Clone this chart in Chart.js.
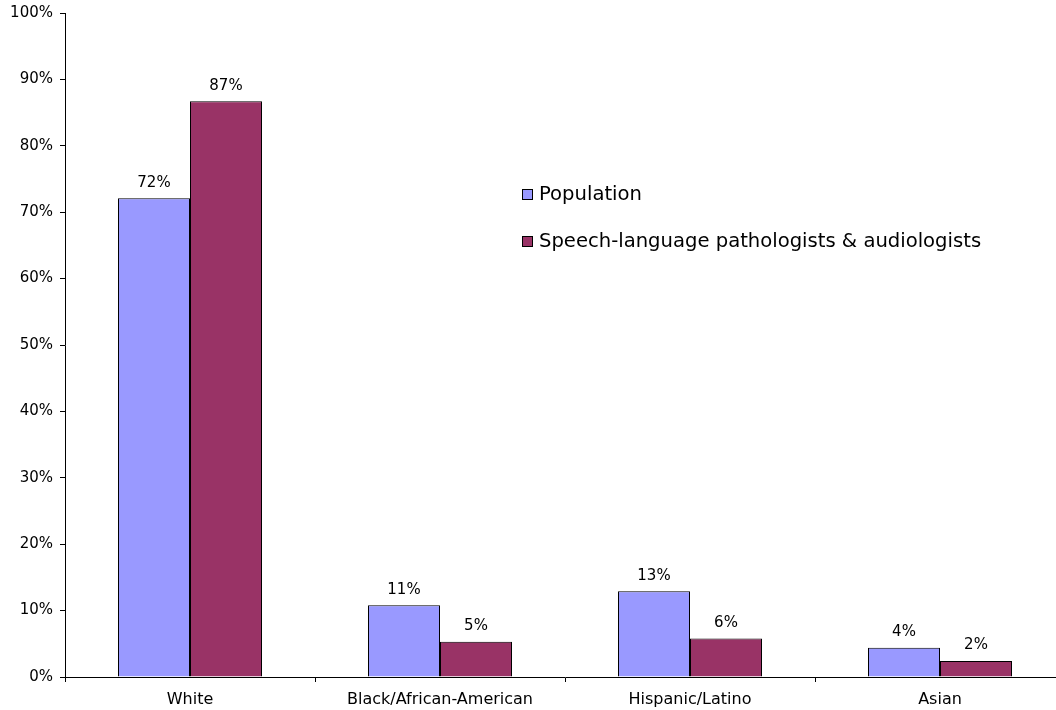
<!DOCTYPE html>
<html>
<head>
<meta charset="utf-8">
<script src="https://cdn.jsdelivr.net/npm/chart.js@4"></script>
<style>
  html, body { margin: 0; padding: 0; background: #fff; overflow: hidden; }
  #wrap { position: relative; width: 1065px; height: 710px; }
</style>
</head>
<body>
<div id="wrap"><canvas id="grafico" width="1065" height="710"></canvas></div>
<script>
const categorias = ["White", "Black/African-American", "Hispanic/Latino", "Asian"];
const populacao = [72.1, 10.8, 12.9, 4.4];
const fonoaudiologos = [86.7, 5.3, 5.8, 2.4];
const nomesSeries = ["Population", "Speech-language pathologists & audiologists"];
const coresSeries = ["#9999ff", "#993366"];

const fonte = "'DejaVu Sans', Verdana, sans-serif";

// rotulos em cima das barras
const rotulosPlugin = {
  id: "rotulos",
  afterDatasetsDraw(chart) {
    const ctx = chart.ctx;
    ctx.save();
    ctx.font = "15px " + fonte;
    ctx.fillStyle = "#000";
    ctx.textAlign = "center";
    ctx.textBaseline = "bottom";
    chart.data.datasets.forEach((ds, i) => {
      chart.getDatasetMeta(i).data.forEach((bar, j) => {
        ctx.fillText(Math.round(ds.data[j]) + "%", bar.x, bar.y - 8);
      });
    });
    ctx.restore();
  },
};

// legenda dentro da area do grafico
const legendaPlugin = {
  id: "legendaInterna",
  afterDraw(chart) {
    const ctx = chart.ctx;
    ctx.save();
    ctx.font = "19.6px " + fonte;
    ctx.textBaseline = "middle";
    chart.data.datasets.forEach((ds, i) => {
      const y = 195 + i * 47;
      ctx.fillStyle = ds.backgroundColor;
      ctx.fillRect(522.5, y - 5.5, 10, 10);
      ctx.strokeStyle = "#000";
      ctx.lineWidth = 1;
      ctx.strokeRect(522.5, y - 5.5, 10, 10);
      ctx.fillStyle = "#000";
      ctx.fillText(ds.label, 539, y);
    });
    ctx.restore();
  },
};

new Chart(document.getElementById("grafico"), {
  type: "bar",
  data: {
    labels: categorias,
    datasets: [
      { label: nomesSeries[0], data: populacao, backgroundColor: coresSeries[0], borderColor: "#000", borderWidth: 1 },
      { label: nomesSeries[1], data: fonoaudiologos, backgroundColor: coresSeries[1], borderColor: "#000", borderWidth: 1 },
    ],
  },
  options: {
    responsive: false,
    animation: false,
    layout: { padding: { top: 13, left: 0, right: 0, bottom: 0 } },
    datasets: { bar: { categoryPercentage: 0.576, barPercentage: 1 } },
    plugins: { legend: { display: false }, tooltip: { enabled: false } },
    scales: {
      x: {
        grid: { display: true, drawOnChartArea: false, offset: true, tickLength: 5, color: "#000" },
        border: { color: "#000" },
        ticks: { color: "#000", font: { family: fonte, size: 16 }, padding: 8 },
        afterFit(scale) { scale.height = 33; },
      },
      y: {
        min: 0,
        max: 100,
        grid: { display: true, drawOnChartArea: false, tickLength: 5, color: "#000" },
        border: { color: "#000" },
        ticks: {
          stepSize: 10,
          color: "#000",
          font: { family: fonte, size: 15 },
          padding: 7,
          callback: (v) => v + "%",
        },
        afterFit(scale) {
          scale.width = 65;
          scale.paddingTop = 0;
          scale.paddingBottom = 0;
        },
      },
    },
  },
  plugins: [rotulosPlugin, legendaPlugin],
});
</script>
</body>
</html>
